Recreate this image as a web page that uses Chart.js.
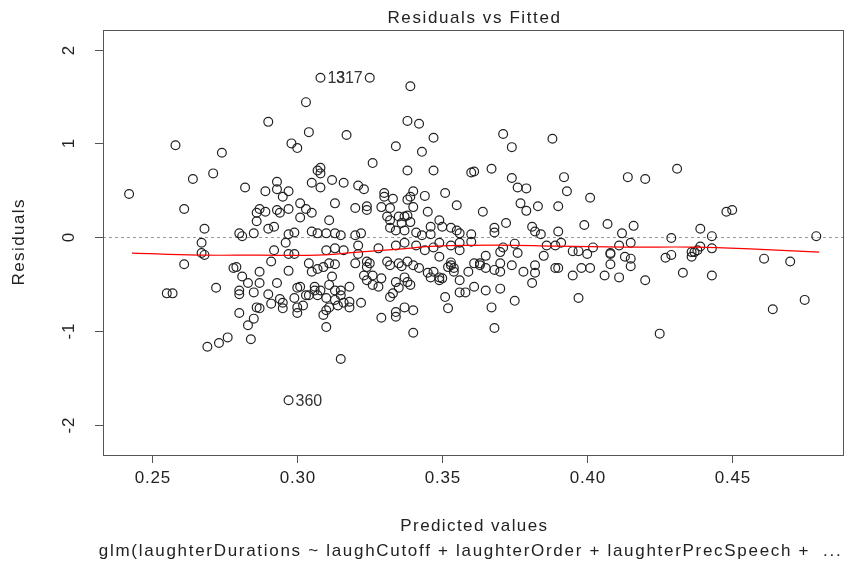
<!DOCTYPE html>
<html lang="en">
<head>
  <meta charset="UTF-8">
  <title>Residuals vs Fitted</title>
  <script src="https://cdn.jsdelivr.net/npm/chart.js"></script>
  <style>
    body{margin:0;background:#fff;}
    #box{width:850px;height:569px;}
  </style>
</head>
<body>
  <div id="box">
    <canvas id="myChart" width="850" height="569"></canvas>
  </div>
  <script>
    // fitted values and residuals (first three are the labelled outliers)
    const fitted = [
      0.308,0.325,0.297,
      0.242,0.258,0.264,0.261,0.274,0.271,0.282,0.290,0.298,0.300,0.303,0.304,
      0.339,0.338,0.342,0.317,0.347,0.371,0.388,0.374,0.334,0.343,0.326,0.338,
      0.347,0.308,0.308,0.312,0.316,0.321,0.323,0.308,0.330,0.330,0.333,0.340,
      0.339,0.338,0.344,0.313,0.320,0.324,0.324,0.329,0.332,0.340,0.345,0.331,
      0.335,0.337,0.338,0.332,0.336,0.339,0.311,0.346,0.332,0.334,0.337,0.341,
      0.307,0.310,0.313,0.315,0.320,0.322,0.343,0.346,
      0.289,0.293,0.293,0.297,0.295,0.305,0.307,0.301,0.303,0.305,0.301,0.287,
      0.289,0.286,0.293,0.297,0.294,0.286,0.268,0.285,0.280,0.281,0.290,0.292,
      0.297,0.299,0.305,
      0.360,0.361,0.367,0.374,0.376,0.379,0.351,0.355,0.364,0.377,0.379,0.383,
      0.349,0.350,0.372,0.353,0.355,0.356,0.360,0.368,0.368,0.381,0.382,0.384,
      0.267,0.267,0.268,0.292,0.291,0.296,0.297,0.299,0.278,0.279,0.287,0.281,
      0.297,0.283,0.287,0.272,0.293,0.280,0.280,0.285,0.290,0.294,0.295,0.299,
      0.295,0.291,0.286,0.287,0.280,0.285,0.283,0.300,0.301,0.303,0.304,0.300,
      0.300,0.302,0.304,0.305,0.306,0.306,0.269,0.273,0.276,0.284,0.315,0.340,
      0.368,0.261,0.255,0.257,
      0.310,0.313,0.316,0.321,0.321,0.328,0.334,0.337,0.341,0.344,0.347,0.307,
      0.309,0.311,0.313,0.320,0.324,0.325,0.324,0.331,0.332,0.335,0.336,0.338,
      0.340,0.342,0.345,0.347,0.346,0.312,0.311,0.323,0.324,0.326,0.329,0.326,
      0.328,0.334,0.335,0.333,0.337,0.338,0.339,0.308,0.310,0.307,0.313,0.315,
      0.315,0.318,0.313,0.314,0.316,0.318,0.322,0.318,0.311,0.310,0.309,0.332,
      0.337,0.340,0.334,0.334,0.329,0.310,
      0.349,0.353,0.356,0.360,0.371,0.375,0.386,0.389,0.356,0.370,0.376,0.385,
      0.349,0.353,0.353,0.354,0.354,0.352,0.365,0.361,0.363,0.363,0.365,0.368,
      0.370,0.370,0.359,0.374,0.378,0.382,0.382,0.381,0.389,0.349,0.349,0.350,
      0.356,0.361,0.351,0.352,0.356,0.358,0.365,0.370,0.367,0.375,
      0.392,0.414,0.420,0.431,0.393,0.401,0.390,0.399,0.407,0.416,0.390,0.412,
      0.429,0.391,0.395,0.397,0.400,0.402,0.411,0.415,0.408,0.408,0.413,0.415,
      0.415,0.408,0.427,0.429,0.436,0.436,0.390,0.395,0.398,0.401,0.406,0.411,
      0.420,0.433,0.397,0.425,
      0.448,0.450,0.439,0.443,0.479,0.439,0.438,0.437,0.443,0.461,0.470,0.443,
      0.464,0.475
    ];
    const residuals = [
      1.70,1.70,-1.74,
      0.46,0.98,0.62,0.30,0.90,0.68,0.53,1.23,1.00,0.95,1.44,1.12,
      1.61,1.24,1.21,1.09,1.06,1.10,1.05,0.96,0.97,0.91,0.79,0.71,
      0.71,0.74,0.68,0.61,0.58,0.55,0.51,0.53,0.47,0.43,0.41,0.49,
      0.43,0.40,0.44,0.36,0.31,0.33,0.29,0.32,0.31,0.32,0.27,0.22,
      0.22,0.22,0.23,0.18,0.15,0.16,0.18,0.11,0.10,0.07,0.07,0.05,
      0.04,0.04,0.04,0.02,0.02,0.04,0.02,0.03,
      0.49,0.59,0.51,0.49,0.43,0.58,0.71,0.36,0.30,0.26,0.21,0.30,
      0.27,0.26,0.29,0.30,0.26,0.17,0.09,0.04,0.04,0.01,0.09,0.11,
      0.03,0.05,0.06,
      0.69,0.70,0.73,0.63,0.53,0.52,0.47,0.34,0.27,0.36,0.28,0.33,
      0.18,0.11,0.15,0.10,0.07,0.04,0.03,0.10,0.05,0.11,0.06,0.03,
      -0.06,-0.17,-0.19,-0.14,-0.26,-0.06,-0.18,-0.18,-0.33,-0.32,-0.37,-0.42,
      -0.36,-0.49,-0.49,-0.54,-0.49,-0.57,-0.61,-0.59,-0.61,-0.66,-0.70,-0.65,
      -0.76,-0.71,-0.75,-0.76,-0.81,-0.87,-0.94,-0.54,-0.53,-0.62,-0.62,-0.75,
      -0.81,-0.73,-0.28,-0.37,-0.53,-0.57,-1.17,-1.13,-1.07,-1.09,-1.30,-1.02,
      -0.97,-0.29,-0.60,-0.60,
      -0.14,-0.12,-0.14,-0.09,-0.18,-0.12,-0.09,-0.06,-0.09,-0.14,-0.11,-0.34,
      -0.32,-0.28,-0.29,-0.28,-0.26,-0.28,-0.32,-0.26,-0.30,-0.28,-0.31,-0.26,
      -0.30,-0.33,-0.38,-0.37,-0.43,-0.42,-0.51,-0.41,-0.46,-0.41,-0.44,-0.51,
      -0.53,-0.48,-0.54,-0.60,-0.43,-0.48,-0.51,-0.57,-0.65,-0.62,-0.57,-0.57,
      -0.62,-0.53,-0.67,-0.73,-0.70,-0.69,-0.70,-0.75,-0.75,-0.78,-0.83,-0.64,
      -0.75,-0.78,-0.80,-0.85,-0.86,-0.96,
      -0.06,-0.09,-0.06,-0.05,-0.11,-0.07,-0.09,-0.09,-0.14,-0.16,-0.17,-0.20,
      -0.21,-0.27,-0.30,-0.33,-0.37,-0.32,-0.20,-0.28,-0.28,-0.30,-0.33,-0.35,
      -0.37,-0.28,-0.37,-0.30,-0.37,-0.30,-0.38,-0.49,-0.33,-0.43,-0.46,-0.44,
      -0.46,-0.53,-0.64,-0.76,-0.59,-0.59,-0.57,-0.55,-0.75,-0.68,
      0.64,0.64,0.62,0.73,0.49,0.42,0.33,0.13,0.14,0.12,0.06,0.04,
      -0.01,-0.06,-0.15,-0.15,-0.18,-0.11,-0.09,-0.06,-0.18,-0.17,-0.21,-0.23,
      -0.31,-0.29,-0.22,-0.19,-0.21,-0.16,-0.33,-0.41,-0.33,-0.33,-0.41,-0.43,
      -0.46,-0.38,-0.65,-1.03,
      0.27,0.29,0.09,0.01,0.01,-0.10,-0.14,-0.16,-0.12,-0.23,-0.26,-0.41,
      -0.77,-0.67
    ];
    // observation ids shown next to the three largest residuals
    const pointLabels = ['13','317','360'];

    // smoother through the residuals
    const smoothX = [0.243,0.266,0.287,0.307,0.321,0.335,0.348,0.369,0.389,0.413,0.437,0.458,0.480];
    const smoothY = [-0.171,-0.192,-0.192,-0.192,-0.160,-0.128,-0.096,-0.085,-0.096,-0.107,-0.107,-0.128,-0.160];

    const xTicks = [0.25,0.30,0.35,0.40,0.45];
    const yTicks = [-2,-1,0,1,2];

    const FONT = '"Liberation Sans", Arial, sans-serif';

    const points = fitted.map((v,i)=>({x:v,y:residuals[i]}));
    const smooth = smoothX.map((v,i)=>({x:v,y:smoothY[i]}));

    // centred text with extra tracking (letterSpacing pads the right side too)
    function spacedText(ctx, txt, cx, cy, spacing){
      ctx.letterSpacing = spacing+'px';
      ctx.fillText(txt, cx + spacing/2, cy);
      ctx.letterSpacing = '0px';
    }

    // frame, axes, zero line and text in base-graphics style
    const rFrame = {
      id:'rFrame',
      beforeDatasetsDraw(chart){
        const {ctx, chartArea:{left,right}, scales:{y}} = chart;
        ctx.save();
        ctx.strokeStyle = '#9a9a9a';
        ctx.lineWidth = 1;
        ctx.setLineDash([3,3]);
        const y0 = Math.round(y.getPixelForValue(0))+0.5;
        ctx.beginPath(); ctx.moveTo(left,y0); ctx.lineTo(right,y0); ctx.stroke();
        ctx.restore();
      },
      afterDraw(chart){
        const {ctx, chartArea:{top,bottom,left,right}, scales:{x,y}} = chart;
        ctx.save();
        ctx.strokeStyle = '#555';
        ctx.lineWidth = 1;
        ctx.strokeRect(Math.round(left)+0.5, Math.round(top)+0.5, Math.round(right-left)-1, Math.round(bottom-top));
        ctx.fillStyle = '#222';
        ctx.font = '17px '+FONT;
        ctx.textAlign = 'center';
        ctx.textBaseline = 'middle';
        xTicks.forEach(t=>{
          const px = Math.round(x.getPixelForValue(t))+0.5;
          ctx.beginPath(); ctx.moveTo(px,bottom); ctx.lineTo(px,bottom+8); ctx.stroke();
          spacedText(ctx, t.toFixed(2), px, bottom+23, 0.8);
        });
        yTicks.forEach(t=>{
          const py = Math.round(y.getPixelForValue(t))+0.5;
          ctx.beginPath(); ctx.moveTo(left,py); ctx.lineTo(left-8,py); ctx.stroke();
          ctx.save();
          ctx.translate(left-34, py);
          ctx.rotate(-Math.PI/2);
          spacedText(ctx, String(t), 0, 0, 0.8);
          ctx.restore();
        });
        // outlier ids: right of the point on the left half, left of it otherwise
        ctx.font = '16px '+FONT;
        ctx.fillStyle = '#333';
        points.slice(0,pointLabels.length).forEach((p,i)=>{
          const px = x.getPixelForValue(p.x), py = y.getPixelForValue(p.y);
          const rightSide = p.x < 0.31;
          ctx.textAlign = rightSide ? 'left' : 'right';
          ctx.fillText(pointLabels[i], px + (rightSide ? 7 : -7), py+1);
        });
        // titles
        const cx = (left+right)/2;
        ctx.fillStyle = '#222';
        ctx.textAlign = 'center';
        ctx.font = '17px '+FONT;
        spacedText(ctx, 'Residuals vs Fitted', cx, 18, 1.6);
        spacedText(ctx, 'Predicted values', cx, 526, 1.4);
        spacedText(ctx, 'glm(laughterDurations ~ laughCutoff + laughterOrder + laughterPrecSpeech +  ...', cx-4, 551, 1.7);
        ctx.save();
        ctx.translate(19, (top+bottom)/2);
        ctx.rotate(-Math.PI/2);
        spacedText(ctx, 'Residuals', 0, 0, 1.4);
        ctx.restore();
        ctx.restore();
      }
    };

    const config = {
      type:'scatter',
      data:{
        datasets:[
          {
            type:'line',
            data:smooth,
            borderColor:'#ff0000',
            borderWidth:1.2,
            pointRadius:0,
            tension:0.4,
            fill:false
          },
          {
            data:points,
            pointStyle:'circle',
            pointRadius:4.4,
            borderWidth:1.2,
            borderColor:'#222',
            backgroundColor:'rgba(0,0,0,0)'
          }
        ]
      },
      options:{
        responsive:false,
        animation:false,
        devicePixelRatio:1,
        layout:{padding:{left:103,top:30,right:1,bottom:114}},
        scales:{
          x:{type:'linear',min:0.233,max:0.4887,display:false},
          y:{type:'linear',min:-2.325,max:2.21,display:false}
        },
        plugins:{legend:{display:false},tooltip:{enabled:false}}
      },
      plugins:[rFrame]
    };

    const myChart = new Chart(document.getElementById('myChart'), config);
  </script>
</body>
</html>
